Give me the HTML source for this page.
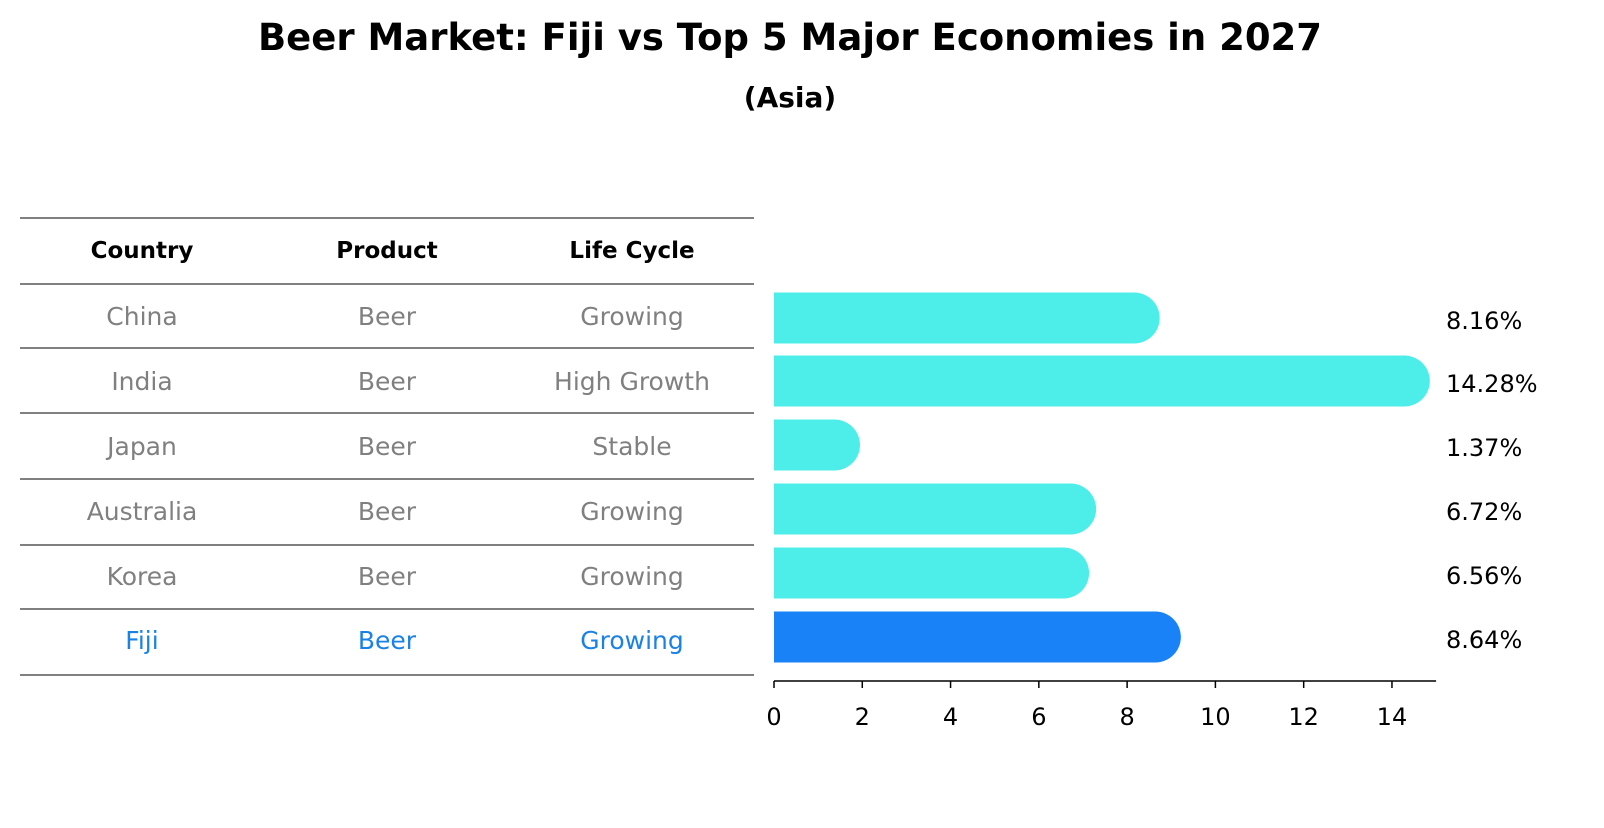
<!DOCTYPE html>
<html><head><meta charset="utf-8"><style>
body{margin:0;background:#fff;}
svg text{font-family:"DejaVu Sans","Liberation Sans",sans-serif;}
</style></head><body>
<svg width="1604" height="823" viewBox="0 0 1604 823" xmlns="http://www.w3.org/2000/svg">
<text x="790" y="50" text-anchor="middle" font-size="37" font-weight="bold">Beer Market: Fiji vs Top 5 Major Economies in 2027</text>
<text x="790" y="107" text-anchor="middle" font-size="28" font-weight="bold">(Asia)</text>
<g id="table"></g>
<g id="bars"></g>
</svg>
<script>
const countries=["China","India","Japan","Australia","Korea","Fiji"];
const products=["Beer","Beer","Beer","Beer","Beer","Beer"];
const lifeCycles=["Growing","High Growth","Stable","Growing","Growing","Growing"];
const values=[8.16,14.28,1.37,6.72,6.56,8.64];
const tickLabels=[0,2,4,6,8,10,12,14];
const NS="http://www.w3.org/2000/svg";
function mk(tag,attrs,parent,txt){const e=document.createElementNS(NS,tag);for(const k in attrs)e.setAttribute(k,attrs[k]);if(txt!==undefined)e.textContent=txt;parent.appendChild(e);return e;}
const tbl=document.getElementById('table');
const lineYs=[218,284,348,413,479,545,609,675];
lineYs.forEach((y,i)=>{const l=mk('line',{x1:20,x2:754,y1:y,y2:y,stroke:'#000','stroke-width':1},tbl);

});
const colX=[142,387,632];
["Country","Product","Life Cycle"].forEach((h,i)=>{const t=mk('text',{x:colX[i],y:258,'text-anchor':'middle','font-size':23,'font-weight':'bold'},tbl,h);

});
const rowCY=[316,381,446,511,576,640];
countries.forEach((c,i)=>{const col=i===countries.length-1?'#1a82e6':'#808080';
[c,products[i],lifeCycles[i]].forEach((v,j)=>{const t=mk('text',{x:colX[j],y:rowCY[i]+9,'text-anchor':'middle','font-size':25,fill:col},tbl,v);

});});
const g=document.getElementById('bars');
const x0=774,pxPer=44.14;
const xs=v=>x0+v*pxPer;
const barCY=[318,381,445,509,573,637],bh=51,r=25.5;
values.forEach((v,i)=>{const fill=i===values.length-1?'#1a82f7':'#4deee9';
const cy=barCY[i];
const p=mk('path',{d:`M${x0},${cy-bh/2} H${xs(v)} A${r},${r} 0 0 1 ${xs(v)},${cy+bh/2} H${x0} Z`,fill:fill},g);


const t=mk('text',{x:1446,y:cy+11,'font-size':24},g,v.toFixed(2)+'%');

});
const ax=mk('line',{x1:x0,x2:xs(15),y1:681,y2:681,stroke:'#000','stroke-width':1.5},g);


tickLabels.forEach(v=>{const tk=mk('line',{x1:xs(v),x2:xs(v),y1:681,y2:688,stroke:'#000','stroke-width':1.5},g);


const t=mk('text',{x:xs(v),y:725,'text-anchor':'middle','font-size':24},g,String(v));

});
</script>
</body></html>
